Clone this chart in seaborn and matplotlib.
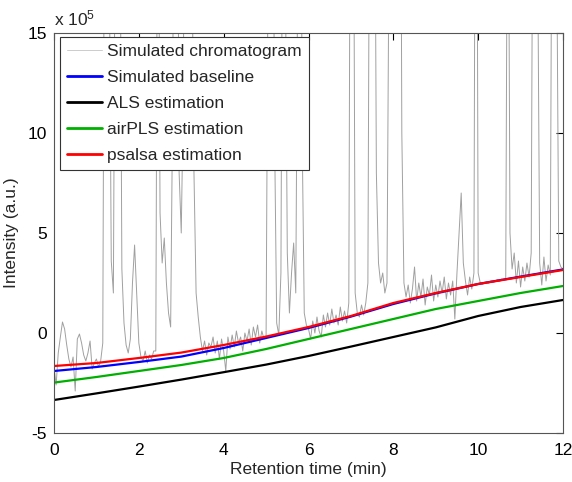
import numpy as np
import pandas as pd
import matplotlib
matplotlib.use("Agg")
import matplotlib.pyplot as plt
import seaborn as sns

# ---------------- data (intensity in units of 1e5) ----------------
chromatogram = [
    # 0.00 - 0.95 min
    -1.7, -2.6, -1.0, -0.2, 0.55, 0.2, -0.6, -1.3, -1.7, -1.2,
    -2.9, -0.3, -0.05, -0.5, -1.1, -1.4, -1.0, -0.4, -1.8, -1.5,
    # 1.00 - 1.95
    -1.3, -1.7, -1.4, -0.5, 30, 40, 20, 3.6, 2.0, 25,
    40, 25, 3.2, 0.5, -0.6, -1.0, -0.3, 2.5, 4.4, 2.0,
    # 2.00 - 2.95
    -0.5, -1.2, -1.4, -0.9, -1.5, -1.1, -1.3, -0.9, -0.9, 30,
    6, 3.5, 4.75, 2.5, 1.0, 0.3, 12, 40, 30, 8,
    # 3.00 - 3.95
    5, 12, 40, 40, 30, 20, 8, 2.0, 0.8, -0.2,
    -0.9, -0.4, -1.1, -0.5, -0.7, -0.2, -1.0, -0.4, -1.3, -0.3,
    # 4.00 - 4.95
    -0.9, -1.9, -0.2, -0.8, -0.1, -0.7, 0.1, -0.5, -0.2, -0.9,
    0.0, -0.4, 0.2, -0.6, 0.3, -0.2, 0.4, -0.5, 0.1, -0.3,
    # 5.00 - 5.95
    -0.2, 20, 40, 30, 10, 0.5, -0.1, 3, 30, 20,
    4, 1.0, 3.0, 4.5, 2.0, 20, 40, 10, 1.0, 0.4,
    # 6.00 - 6.95
    0.2, -0.3, 0.6, 0.0, 0.8, 0.1, -0.2, 0.9, 0.3, 1.0,
    0.4, 1.2, 0.5, 0.9, 0.4, 1.3, 0.6, 1.1, 0.5, 1.5,
    # 7.00 - 7.95
    35, 30, 2.0, 1.0, 0.8, 1.4, 0.9, 1.5, 2.5, 30,
    40, 30, 8, 3.5, 2.5, 3.0, 2.0, 2.5, 20, 40,
    # 8.00 - 8.95
    30, 20, 25, 40, 10, 2.5, 1.8, 2.4, 1.5, 2.2,
    3.3, 1.6, 2.5, 1.8, 2.7, 1.4, 2.3, 1.9, 2.9, 1.6,
    # 9.00 - 9.95
    2.4, 1.8, 2.6, 2.0, 2.8, 1.7, 2.5, 1.9, 2.6, 0.7,
    3.0, 5.0, 7.0, 3.5, 2.6, 1.9, 2.8, 2.2, 3.0, 40,
    # 10.00 - 10.95
    3.0, 2.5, 2.45, 2.5, 2.55, 2.5, 2.6, 2.55, 2.6, 2.65,
    2.6, 2.7, 2.65, 2.7, 30, 5.0, 3.2, 4.0, 2.5, 3.6,
    # 11.00 - 11.95
    2.3, 3.3, 2.6, 3.5, 2.8, 4.0, 30, 40, 20, 3.5,
    2.4, 3.8, 2.6, 3.4, 2.9, 30, 40, 20, 3.6, 3.3,
    # 12.00
    3.2,
]
chrom_time = np.linspace(0, 12, len(chromatogram))

base_time = [0, 1, 2, 3, 4, 5, 6, 7, 8, 9, 10, 11, 12]
simulated_baseline = [-1.9, -1.7, -1.45, -1.18, -0.75, -0.25, 0.25, 0.82, 1.45, 1.98, 2.45, 2.82, 3.18]
als_estimation = [-3.35, -3.02, -2.68, -2.33, -1.96, -1.58, -1.15, -0.68, -0.2, 0.28, 0.85, 1.3, 1.65]
airpls_estimation = [-2.48, -2.2, -1.9, -1.6, -1.25, -0.8, -0.3, 0.2, 0.7, 1.2, 1.6, 2.0, 2.35]
psalsa_estimation = [-1.65, -1.5, -1.25, -0.98, -0.6, -0.18, 0.3, 0.85, 1.5, 2.0, 2.45, 2.8, 3.15]

x_ticks = [0, 2, 4, 6, 8, 10, 12]
y_ticks = [-5, 0, 5, 10, 15]

# ---------------- style ----------------
sns.set_style("white")
plt.rcParams["font.family"] = ["Liberation Sans", "DejaVu Sans"]
plt.rcParams["mathtext.default"] = "regular"

fig = plt.figure(figsize=(5.72, 4.82), dpi=100)
ax = fig.add_axes([54 / 572, 1 - 433 / 482, (563 - 54) / 572, (433 - 33) / 482])

chrom_df = pd.DataFrame({"t": chrom_time, "v": chromatogram})
base_df = pd.DataFrame({
    "t": base_time,
    "sim": simulated_baseline,
    "als": als_estimation,
    "air": airpls_estimation,
    "ps": psalsa_estimation,
})

sns.lineplot(data=chrom_df, x="t", y="v", ax=ax, color="#a0a0a0", linewidth=0.7,
             estimator=None, label="Simulated chromatogram")
sns.lineplot(data=base_df, x="t", y="sim", ax=ax, color="#0000ff", linewidth=1.6,
             estimator=None, label="Simulated baseline")
sns.lineplot(data=base_df, x="t", y="als", ax=ax, color="#000000", linewidth=1.6,
             estimator=None, label="ALS estimation")
sns.lineplot(data=base_df, x="t", y="air", ax=ax, color="#00b000", linewidth=1.6,
             estimator=None, label="airPLS estimation")
sns.lineplot(data=base_df, x="t", y="ps", ax=ax, color="#ff0000", linewidth=1.6,
             estimator=None, label="psalsa estimation")

ax.set_xlim(0, 12)
ax.set_ylim(-5, 15)
ax.set_xticks(x_ticks)
ax.set_yticks(y_ticks)
ax.set_xticklabels([str(v) for v in x_ticks])
ax.set_yticklabels([str(v) for v in y_ticks])
ax.tick_params(axis="both", direction="in", length=5, width=0.8, top=True, right=True,
               labelsize=12.5, colors="#000000")
ax.tick_params(axis="x", pad=7)
ax.tick_params(axis="y", pad=5)
for sp in ax.spines.values():
    sp.set_color("#555555")
    sp.set_linewidth(0.8)
    sp.set_visible(True)

ax.set_xlabel("Retention time (min)", fontsize=12.5, labelpad=3)
ax.set_ylabel("Intensity (a.u.)", fontsize=12.5, labelpad=6)
ax.text(0.0, 1.012, r"x 10$^{5}$", transform=ax.transAxes, fontsize=12.5,
        ha="left", va="bottom")

leg = ax.legend(loc="upper left", bbox_to_anchor=(0.012, 0.99), fontsize=12.5,
                frameon=True, fancybox=False, edgecolor="#333333",
                handlelength=2.0, handletextpad=0.3, labelspacing=0.62,
                borderpad=0.4, borderaxespad=0.0, framealpha=1.0)
leg.get_frame().set_linewidth(0.8)
leg.get_lines()[0].set_color("#cccccc")
for ln in leg.get_lines()[1:]:
    ln.set_linewidth(2.0)

fig.savefig("out.png", dpi=100)
